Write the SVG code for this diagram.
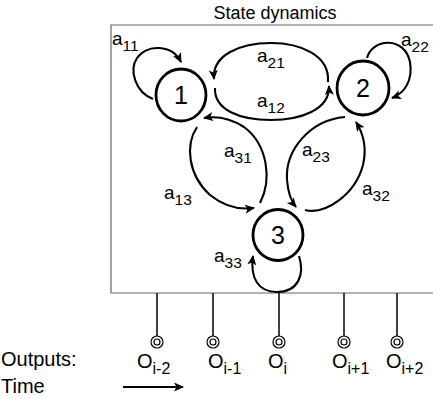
<svg xmlns="http://www.w3.org/2000/svg" width="433" height="399" viewBox="0 0 433 399">
<style>
text{font-family:"Liberation Sans",Arial,sans-serif;fill:#000}
.node{fill:#fff;stroke:#000;stroke-width:2.8}
.num{font-size:25px;text-anchor:middle}
.arc{fill:none;stroke:#000;stroke-width:2.1;marker-end:url(#ah)}
.lbl{font-size:19px}
.sub{font-size:15.5px}
.stem{stroke:#000;stroke-width:1.5}
.bull{fill:#fff;stroke:#000;stroke-width:1.2}
.out{font-size:20px}
.osub{font-size:16px}
</style>
<defs>
<marker id="ah" markerUnits="userSpaceOnUse" markerWidth="10" markerHeight="10" viewBox="0 0 10 10" refX="9" refY="5" orient="auto">
<path d="M0,0.5 L10,5 L0,9.5 L2.5,5 z" fill="#000"/>
</marker>
</defs>
<text x="275" y="19" font-size="18" text-anchor="middle">State dynamics</text>
<path d="M440,25 H111 V293 H440" fill="none" stroke="#666" stroke-width="1.2"/>
<g id="connectors">
<path class="arc" d="M153,99 C135,92 129,70 137,58 C147,44 172,44 181,62"/>
<path class="arc" d="M367,58 C372,38 405,36 410,62 C413,80 405,93 392,98"/>
<path class="arc" d="M328,82 C330,55 300,43 271,43 C240,43 212,55 214,79"/>
<path class="arc" d="M215,88 C214,110 240,120 271,120 C300,120 330,110 329,86"/>
<path class="arc" d="M260,203 C272,180 268,145 244,127 C230,118 216,116 204,118"/>
<path class="arc" d="M197,127 C185,145 188,175 210,195 C225,207 240,210 254,208"/>
<path class="arc" d="M345,117 C310,120 285,150 287,180 C288,192 290,200 296,207"/>
<path class="arc" d="M305,210 C325,215 355,195 363,165 C367,148 363,133 356,122"/>
<path class="arc" d="M299,256 C305,275 298,292 277,292 C258,292 250,278 253,256"/>
</g>
<g id="node1"><ellipse class="node" cx="181" cy="95" rx="25" ry="26"/><text class="num" x="181" y="104">1</text></g>
<g id="node2"><ellipse class="node" cx="363" cy="88" rx="26" ry="27"/><text class="num" x="363" y="97">2</text></g>
<g id="node3"><ellipse class="node" cx="278" cy="235" rx="25" ry="25.5"/><text class="num" x="278" y="244">3</text></g>
<g id="labels">
<text class="lbl" x="112" y="45">a<tspan class="sub" dy="6">11</tspan></text>
<text class="lbl" x="257" y="62">a<tspan class="sub" dy="6">21</tspan></text>
<text class="lbl" x="257" y="107">a<tspan class="sub" dy="6">12</tspan></text>
<text class="lbl" x="401" y="46">a<tspan class="sub" dy="6">22</tspan></text>
<text class="lbl" x="224" y="157">a<tspan class="sub" dy="6">31</tspan></text>
<text class="lbl" x="302" y="156">a<tspan class="sub" dy="6">23</tspan></text>
<text class="lbl" x="164" y="199">a<tspan class="sub" dy="6">13</tspan></text>
<text class="lbl" x="362" y="195">a<tspan class="sub" dy="6">32</tspan></text>
<text class="lbl" x="214" y="262">a<tspan class="sub" dy="6">33</tspan></text>
</g>
<g id="outputs">
<line class="stem" x1="157" y1="293" x2="157" y2="336"/>
<line class="stem" x1="213" y1="293" x2="213" y2="336"/>
<line class="stem" x1="279" y1="293" x2="279" y2="336"/>
<line class="stem" x1="344" y1="293" x2="344" y2="336"/>
<line class="stem" x1="397" y1="293" x2="397" y2="336"/>
<g class="bull"><circle cx="157" cy="342" r="6"/><circle cx="157" cy="342" r="3"/></g>
<g class="bull"><circle cx="213" cy="342" r="6"/><circle cx="213" cy="342" r="3"/></g>
<g class="bull"><circle cx="279" cy="342" r="6"/><circle cx="279" cy="342" r="3"/></g>
<g class="bull"><circle cx="344" cy="342" r="6"/><circle cx="344" cy="342" r="3"/></g>
<g class="bull"><circle cx="397" cy="342" r="6"/><circle cx="397" cy="342" r="3"/></g>
<text class="out" x="137" y="368">O<tspan class="osub" dy="6">i-2</tspan></text>
<text class="out" x="208" y="368">O<tspan class="osub" dy="6">i-1</tspan></text>
<text class="out" x="268" y="368">O<tspan class="osub" dy="6">i</tspan></text>
<text class="out" x="332" y="368">O<tspan class="osub" dy="6">i+1</tspan></text>
<text class="out" x="386" y="368">O<tspan class="osub" dy="6">i+2</tspan></text>
<text x="1" y="366" font-size="20">Outputs:</text>
<text x="1" y="393" font-size="20">Time</text>
<line x1="123" y1="387" x2="183" y2="387" stroke="#000" stroke-width="2" marker-end="url(#ah)"/>
</g>
</svg>
